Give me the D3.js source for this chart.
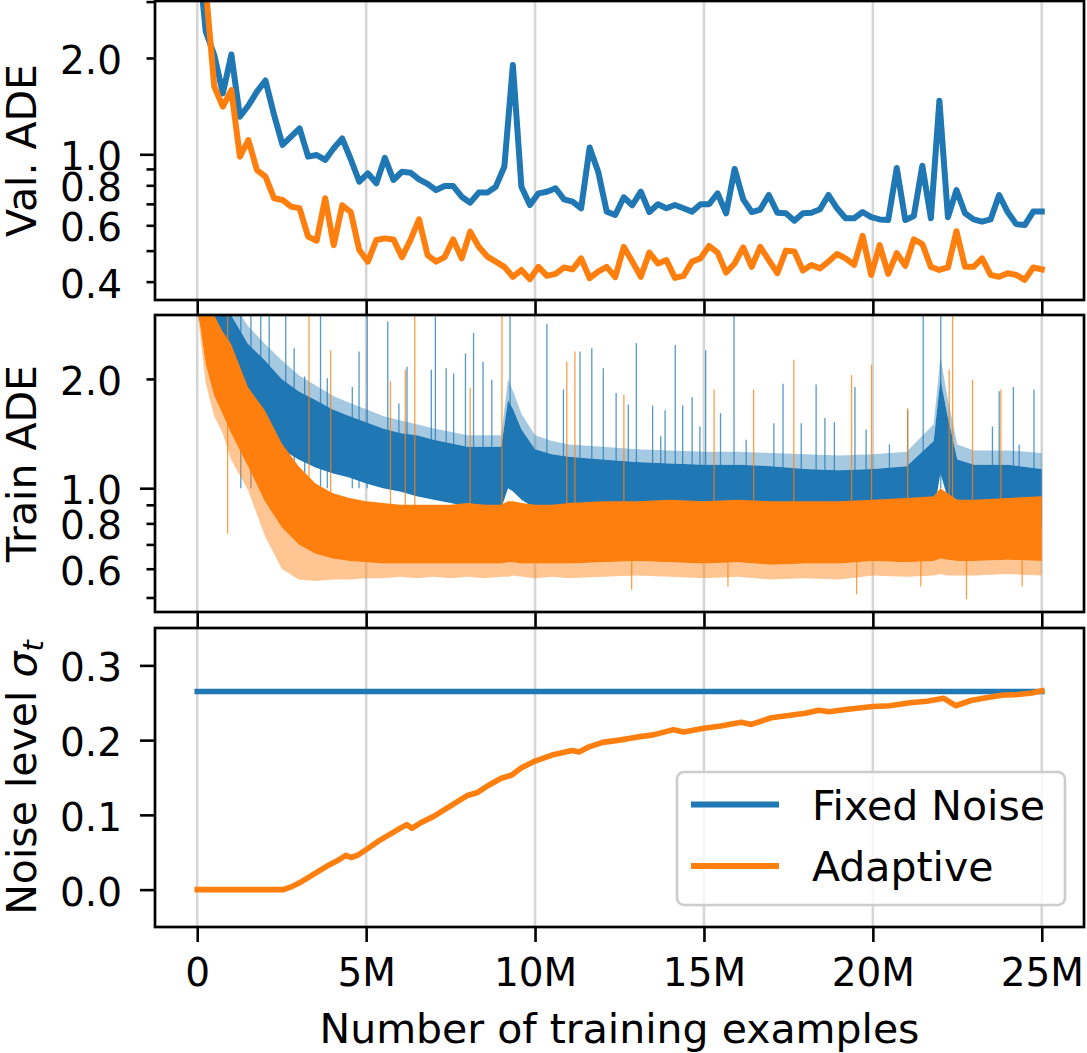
<!DOCTYPE html>
<html lang="en">
<head>
<meta charset="utf-8">
<title>Val / Train ADE and noise level</title>
<style>
    body { margin: 0; background: #fff; }
    svg { display: block; font-family: "DejaVu Sans", sans-serif; }
</style>
</head>
<body>
<script src="https://cdn.jsdelivr.net/npm/d3@7"></script>
<script>
    // x values are in millions of training examples
    var xTicks = [0, 5, 10, 15, 20, 25];
    var xTickLabels = ["0", "5M", "10M", "15M", "20M", "25M"];

    // validation ADE, 100 evaluations evenly spaced over 0..25M
    var valFixed = [4.5, 2.42, 2.04, 1.55, 2.05, 1.31, 1.42, 1.57, 1.70, 1.33,
        1.07, 1.135, 1.205, 0.983, 0.995, 0.96, 1.044, 1.12, 0.965, 0.821,
        0.872, 0.812, 0.975, 0.831, 0.882, 0.876, 0.835, 0.808, 0.773, 0.796,
        0.796, 0.737, 0.706, 0.759, 0.759, 0.792, 0.915, 1.90, 0.792, 0.694,
        0.755, 0.764, 0.783, 0.723, 0.711, 0.678, 1.05, 0.882, 0.662, 0.646,
        0.734, 0.693, 0.764, 0.660, 0.698, 0.678, 0.694, 0.678, 0.662, 0.698,
        0.698, 0.755, 0.654, 0.90, 0.723, 0.660, 0.672, 0.746, 0.657, 0.654,
        0.620, 0.654, 0.657, 0.673, 0.746, 0.678, 0.631, 0.631, 0.660, 0.636,
        0.626, 0.623, 0.906, 0.623, 0.641, 0.921, 0.631, 1.47, 0.636, 0.773,
        0.654, 0.626, 0.616, 0.626, 0.746, 0.660, 0.605, 0.601, 0.662, 0.662];
    var valAdaptive = [5.0, 3.3, 1.627, 1.409, 1.588, 0.983, 1.108, 0.893, 0.851, 0.729,
        0.720, 0.686, 0.678, 0.553, 0.537, 0.729, 0.520, 0.693, 0.660, 0.502,
        0.462, 0.540, 0.546, 0.542, 0.477, 0.540, 0.626, 0.484, 0.462, 0.477,
        0.542, 0.473, 0.573, 0.514, 0.479, 0.462, 0.445, 0.414, 0.435, 0.407,
        0.445, 0.417, 0.423, 0.443, 0.437, 0.473, 0.410, 0.430, 0.445, 0.413,
        0.514, 0.462, 0.414, 0.493, 0.456, 0.467, 0.411, 0.417, 0.462, 0.473,
        0.517, 0.493, 0.427, 0.456, 0.512, 0.445, 0.514, 0.467, 0.425, 0.500,
        0.497, 0.433, 0.451, 0.440, 0.462, 0.488, 0.473, 0.451, 0.556, 0.420,
        0.520, 0.423, 0.491, 0.448, 0.542, 0.524, 0.445, 0.435, 0.443, 0.575,
        0.445, 0.445, 0.473, 0.420, 0.414, 0.425, 0.420, 0.405, 0.443, 0.437];

    // training ADE: dense band (Lo..Hi), light fringe (Top / Bottom) and the tall spikes
    var trainX = [0, 0.25, 0.5, 0.75, 1, 1.5, 2, 2.5, 3, 3.5, 4, 4.5, 5, 5.5, 6, 6.5, 7, 7.5, 8, 8.5,
        9, 9.2, 9.35, 9.6, 10, 10.5, 11, 12, 13, 14, 15, 16, 17, 18, 19, 20, 21, 21.8, 22, 22.2,
        22.5, 23, 24, 25];
    var trainFixedLo = [3.1, 2.4, 2.0, 1.8, 1.7, 1.5, 1.38, 1.28, 1.2, 1.14, 1.1, 1.07, 1.03, 1.0, 0.98, 0.95, 0.93, 0.91, 0.89, 0.88,
        0.88, 1.0, 0.98, 0.93, 0.88, 0.86, 0.85, 0.83, 0.82, 0.81, 0.8, 0.8, 0.8, 0.79, 0.79, 0.79, 0.79, 0.85, 1.1, 0.95,
        0.82, 0.79, 0.79, 0.78];
    var trainFixedHi = [4.0, 3.6, 3.3, 3.1, 3.0, 2.5, 2.25, 2.0, 1.85, 1.75, 1.65, 1.58, 1.52, 1.46, 1.42, 1.4, 1.36, 1.33, 1.3, 1.3,
        1.3, 1.75, 1.65, 1.45, 1.28, 1.24, 1.22, 1.2, 1.18, 1.17, 1.16, 1.16, 1.15, 1.13, 1.12, 1.13, 1.15, 1.35, 2.0, 1.6,
        1.2, 1.16, 1.16, 1.13];
    var trainFixedTop = [4.0, 4.0, 3.8, 3.5, 3.3, 2.8, 2.5, 2.25, 2.05, 1.92, 1.8, 1.72, 1.65, 1.58, 1.54, 1.5, 1.46, 1.43, 1.4, 1.4,
        1.4, 2.0, 1.85, 1.6, 1.4, 1.35, 1.32, 1.3, 1.28, 1.27, 1.26, 1.26, 1.25, 1.24, 1.23, 1.24, 1.26, 1.5, 2.3, 1.8,
        1.32, 1.27, 1.27, 1.25];
    var trainAdaptLo = [3.2, 2.2, 1.8, 1.6, 1.42, 1.15, 0.92, 0.78, 0.7, 0.66, 0.64, 0.63, 0.625, 0.62, 0.62, 0.62, 0.62, 0.62, 0.62, 0.62,
        0.62, 0.625, 0.625, 0.62, 0.62, 0.62, 0.62, 0.625, 0.63, 0.625, 0.62, 0.625, 0.615, 0.62, 0.62, 0.63, 0.625, 0.63, 0.64, 0.635,
        0.63, 0.63, 0.635, 0.63];
    var trainAdaptHi = [4.0, 3.4, 3.0, 2.7, 2.5, 1.9, 1.64, 1.33, 1.15, 1.03, 0.97, 0.94, 0.92, 0.91, 0.9, 0.9, 0.9, 0.9, 0.91, 0.9,
        0.9, 0.92, 0.92, 0.91, 0.9, 0.9, 0.91, 0.92, 0.92, 0.93, 0.92, 0.93, 0.92, 0.92, 0.92, 0.93, 0.94, 0.95, 1.0, 0.97,
        0.93, 0.93, 0.94, 0.95];
    var trainAdaptBottom = [3.1, 1.95, 1.58, 1.42, 1.2, 0.99, 0.74, 0.6, 0.56, 0.555, 0.56, 0.56, 0.565, 0.565, 0.57, 0.565, 0.57, 0.565, 0.57, 0.565,
        0.57, 0.57, 0.575, 0.57, 0.565, 0.57, 0.565, 0.57, 0.575, 0.57, 0.565, 0.57, 0.56, 0.565, 0.56, 0.575, 0.57, 0.575, 0.58, 0.575,
        0.575, 0.575, 0.58, 0.575];
    var trainFixedSpikes = [[1.29, 3.5], [1.59, 3.5], [1.88, 3.5], [2.13, 3.5], [2.62, 3.5], [2.87, 2.43], [3.18, 2.03],
        [3.65, 3.5], [3.85, 2.01], [4.59, 1.9], [4.79, 2.38], [5.03, 3.5], [5.64, 2.88], [5.97, 1.71], [6.21, 2.16],
        [6.93, 2.12], [7.05, 2.97], [7.37, 2.14], [7.59, 2.07], [7.94, 2.35], [8.18, 2.68], [8.46, 2.23], [8.72, 1.99],
        [9.26, 3.5], [10.35, 2.84], [10.84, 1.87], [11.33, 2.38], [11.68, 2.43], [12.02, 2.14], [12.4, 1.83],
        [12.76, 1.7], [13.0, 2.51], [13.48, 1.69], [13.72, 1.39], [13.85, 1.64], [14.15, 2.48], [14.37, 1.69],
        [14.65, 1.78], [14.88, 1.48], [15.05, 2.4], [15.49, 1.61], [15.89, 3.5], [16.25, 1.36], [17.07, 1.51],
        [17.34, 1.94], [17.88, 1.51], [18.32, 1.93], [18.58, 1.56], [18.86, 1.52], [19.47, 1.9], [19.8, 1.45],
        [20.49, 1.32], [21.03, 1.64], [21.49, 3.5], [22.01, 3.5], [23.54, 1.48], [23.74, 1.85], [24.16, 1.9],
        [24.33, 1.32], [24.77, 1.87]];
    var trainAdaptSpikes = [[0.9, 3.5], [3.31, 3.5], [3.95, 2.4], [5.72, 1.97], [6.16, 2.12], [6.44, 3.5], [8.08, 1.89],
        [9.02, 3.5], [10.94, 2.23], [11.18, 2.38], [12.63, 1.81], [15.3, 1.87], [16.47, 1.87], [17.66, 2.26],
        [19.37, 2.05], [19.96, 2.19], [21.03, 1.66], [22.26, 2.12], [22.36, 3.5], [22.95, 1.99], [23.79, 1.87]];
    var trainAdaptDips = [[12.86, 0.525], [15.71, 0.536], [19.52, 0.51], [21.42, 0.536], [22.77, 0.495], [24.42, 0.536]];

    // noise level sigma_t
    var noiseFixedX = [0, 25];
    var noiseFixed = [0.265, 0.265];
    var noiseX = [0, 0.5, 1, 1.5, 2, 2.55, 2.8, 3.1, 3.5, 3.9, 4.2, 4.4, 4.55, 4.75, 5.05, 5.4, 5.7, 6.0, 6.2, 6.35,
        6.6, 7.0, 7.5, 8.0, 8.3, 8.6, 9.0, 9.3, 9.6, 10.0, 10.5, 10.9, 11.1, 11.3, 11.6, 12.0, 12.5, 13.0, 13.5, 14.1,
        14.4, 15.0, 15.5, 16.1, 16.4, 17.0, 17.5, 18.0, 18.4, 18.7, 19.2, 20.0, 20.5, 21.1, 21.6, 22.1, 22.45, 22.9,
        23.4, 23.8, 24.3, 24.7, 25.0];
    var noiseAdaptive = [0, 0, 0, 0, 0, 0, 0.004, 0.011, 0.022, 0.033, 0.040, 0.046, 0.043, 0.046, 0.055, 0.066, 0.074, 0.082, 0.087, 0.082,
        0.089, 0.098, 0.112, 0.126, 0.130, 0.139, 0.149, 0.153, 0.163, 0.172, 0.180, 0.184, 0.186, 0.184, 0.191, 0.197, 0.200, 0.204, 0.207, 0.214,
        0.211, 0.216, 0.219, 0.224, 0.221, 0.230, 0.233, 0.236, 0.240, 0.238, 0.241, 0.245, 0.246, 0.250, 0.252, 0.256, 0.246, 0.253,
        0.257, 0.260, 0.261, 0.263, 0.266];

    var seriesNames = ["Fixed Noise", "Adaptive"];
    var colors = ["#1f77b4", "#ff7f0e"];

    function main() {
        var width = 1087, height = 1053;
        var left = 155, right = 1084;
        var tickFont = 39, labelFont = 41;

        var svg = d3.select("body").append("svg")
            .attr("width", width)
            .attr("height", height);

        var x = d3.scaleLinear().domain([-1.25, 26.25]).range([left, right]);

        var panels = [
            {top: 1, bottom: 300, y: d3.scaleLog().domain([0.3505, 3.013]).range([300, 1]),
                marks: [0.4, 0.5, 0.6, 0.7, 0.8, 0.9, 1, 2, 3], major: [1], labels: [0.4, 0.6, 0.8, 1, 2],
                title: "Val. ADE"},
            {top: 315, bottom: 612, y: d3.scaleLog().domain([0.456, 3.0]).range([612, 315]),
                marks: [0.5, 0.6, 0.7, 0.8, 0.9, 1, 2], major: [1], labels: [0.6, 0.8, 1, 2],
                title: "Train ADE"},
            {top: 628, bottom: 927, y: d3.scaleLinear().domain([-0.05, 0.35]).range([927, 628]),
                marks: [0, 0.1, 0.2, 0.3], major: [0, 0.1, 0.2, 0.3], labels: [0, 0.1, 0.2, 0.3],
                title: null}
        ];

        panels.forEach(function (p, k) {
            p.g = svg.append("g");
            p.clip = "clip" + k;
            svg.append("clipPath").attr("id", p.clip)
                .append("rect")
                .attr("x", left).attr("y", p.top)
                .attr("width", right - left).attr("height", p.bottom - p.top);

            // vertical grid
            p.g.append("g").selectAll("line").data(xTicks).join("line")
                .attr("x1", function (d) { return x(d); })
                .attr("x2", function (d) { return x(d); })
                .attr("y1", p.top).attr("y2", p.bottom)
                .attr("stroke", "#d6d6d6").attr("stroke-width", 2.6);

            p.data = p.g.append("g").attr("clip-path", "url(#" + p.clip + ")");
        });

        // panel 1: validation ADE
        var p1 = panels[0];
        var valX = valFixed.map(function (d, i) { return i * 25 / (valFixed.length - 1); });
        var valLine = d3.line()
            .x(function (d, i) { return x(valX[i]); })
            .y(function (d) { return p1.y(d); });
        [valFixed, valAdaptive].forEach(function (s, k) {
            p1.data.append("path").datum(s)
                .attr("d", valLine)
                .attr("fill", "none")
                .attr("stroke", colors[k])
                .attr("stroke-width", 6)
                .attr("stroke-linejoin", "round")
                .attr("stroke-linecap", "square");
        });

        // panel 2: training ADE
        var p2 = panels[1];
        function band(lo, hi) {
            return d3.area()
                .x(function (d, i) { return x(trainX[i]); })
                .y0(function (d, i) { return p2.y(lo[i]); })
                .y1(function (d, i) { return p2.y(hi[i]); });
        }
        function spikes(list, base, color) {
            p2.data.append("g").selectAll("line").data(list).join("line")
                .attr("x1", function (d) { return x(d[0]); })
                .attr("x2", function (d) { return x(d[0]); })
                .attr("y1", function (d) { return p2.y(d[1]); })
                .attr("y2", p2.y(base))
                .attr("stroke", color)
                .attr("stroke-opacity", 0.75)
                .attr("stroke-width", 1.3);
        }
        spikes(trainFixedSpikes, 1.0, colors[0]);
        p2.data.append("path").datum(trainX)
            .attr("d", band(trainFixedHi, trainFixedTop))
            .attr("fill", colors[0]).attr("fill-opacity", 0.4);
        p2.data.append("path").datum(trainX)
            .attr("d", band(trainFixedLo, trainFixedHi))
            .attr("fill", colors[0]);
        p2.data.append("path").datum(trainX)
            .attr("d", band(trainAdaptBottom, trainAdaptLo))
            .attr("fill", colors[1]).attr("fill-opacity", 0.45);
        spikes(trainAdaptSpikes, 0.75, colors[1]);
        spikes(trainAdaptDips, 0.7, colors[1]);
        p2.data.append("path").datum(trainX)
            .attr("d", band(trainAdaptLo, trainAdaptHi))
            .attr("fill", colors[1]);

        // panel 3: noise level
        var p3 = panels[2];
        [[noiseFixedX, noiseFixed], [noiseX, noiseAdaptive]].forEach(function (s, k) {
            var line = d3.line()
                .x(function (d, i) { return x(s[0][i]); })
                .y(function (d) { return p3.y(d); });
            p3.data.append("path").datum(s[1])
                .attr("d", line)
                .attr("fill", "none")
                .attr("stroke", colors[k])
                .attr("stroke-width", 5.6)
                .attr("stroke-linejoin", "round")
                .attr("stroke-linecap", "square");
        });

        // axes and frames
        panels.forEach(function (p, k) {
            var minor = p.marks.filter(function (v) { return p.major.indexOf(v) < 0; });
            var ax = [
                d3.axisLeft(p.y).tickValues(minor).tickSize(8.5).tickFormat(""),
                d3.axisLeft(p.y).tickValues(p.major).tickSize(15).tickFormat(""),
                d3.axisLeft(p.y).tickValues(p.labels).tickSize(0).tickPadding(33).tickFormat(d3.format(".1f"))
            ];
            ax.forEach(function (a) {
                var g = svg.append("g").attr("transform", "translate(" + left + ",0)").call(a);
                g.select(".domain").remove();
                g.selectAll(".tick line").attr("stroke", "#000").attr("stroke-width", 2.6);
                g.selectAll("text").attr("font-size", tickFont).attr("font-family", "DejaVu Sans")
                    .attr("fill", "#000").attr("dy", "0.4em");
            });

            var xa = d3.axisBottom(x).tickValues(xTicks).tickSize(15)
                .tickFormat(function (d, i) { return k === 2 ? xTickLabels[i] : ""; });
            var gx = svg.append("g").attr("transform", "translate(0," + p.bottom + ")").call(xa);
            gx.select(".domain").remove();
            gx.selectAll(".tick line").attr("stroke", "#000").attr("stroke-width", 2.6);
            gx.selectAll("text").attr("font-size", tickFont).attr("font-family", "DejaVu Sans")
                .attr("fill", "#000").attr("y", 59).attr("dy", 0);

            svg.append("rect")
                .attr("x", left).attr("y", p.top)
                .attr("width", right - left).attr("height", p.bottom - p.top)
                .attr("fill", "none").attr("stroke", "#000").attr("stroke-width", 2.7);

            var cy = (p.top + p.bottom) / 2;
            var t = svg.append("text")
                .attr("transform", "translate(36," + cy + ") rotate(-90)")
                .attr("text-anchor", "middle")
                .attr("font-size", labelFont);
            if (p.title) {
                t.text(p.title);
            } else {
                t.append("tspan").text("Noise level ");
                t.append("tspan").attr("font-style", "italic").text("σ");
                t.append("tspan").attr("font-style", "italic").attr("font-size", 29).attr("dy", "0.25em").text("t");
            }
        });

        svg.append("text")
            .attr("x", (left + right) / 2).attr("y", 1043)
            .attr("text-anchor", "middle")
            .attr("font-size", labelFont)
            .text("Number of training examples");

        // legend
        var lg = svg.append("g");
        lg.append("rect")
            .attr("x", 677).attr("y", 772).attr("width", 388).attr("height", 133).attr("rx", 7)
            .attr("fill", "#fff").attr("fill-opacity", 0.8)
            .attr("stroke", "#cccccc").attr("stroke-width", 2.6);
        seriesNames.forEach(function (name, k) {
            var ly = 804.5 + k * 61.5;
            lg.append("line")
                .attr("x1", 691).attr("x2", 779).attr("y1", ly).attr("y2", ly)
                .attr("stroke", colors[k]).attr("stroke-width", 6).attr("stroke-linecap", "butt");
            lg.append("text")
                .attr("x", 812).attr("y", ly + 15)
                .attr("font-size", labelFont)
                .text(name);
        });
    }

    window.onload = function () {
        main();
    };
</script>
</body>
</html>
